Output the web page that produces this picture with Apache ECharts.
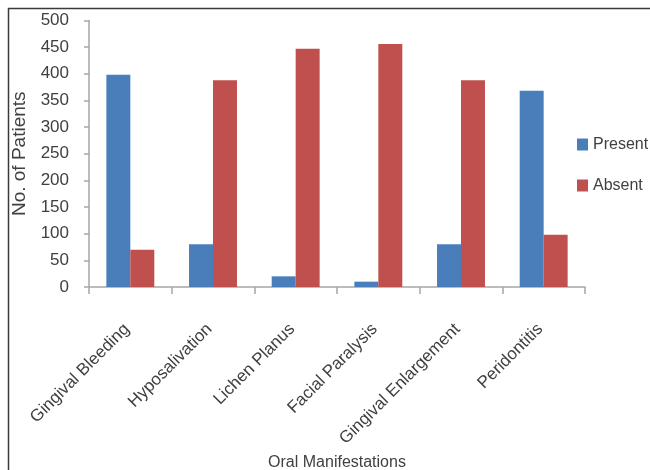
<!DOCTYPE html>
<html>
<head>
<meta charset="utf-8">
<script src="https://cdn.jsdelivr.net/npm/echarts@6/dist/echarts.min.js"></script>
<style>
html,body{margin:0;padding:0;background:#fff;overflow:hidden;}
#c{width:650px;height:470px;}
</style>
</head>
<body>
<div id="c"></div>
<script>
const categories = ["Gingival Bleeding", "Hyposalivation", "Lichen Planus", "Facial Paralysis", "Gingival Enlargement", "Peridontitis"];
const presentValues = [398, 80, 20, 10, 80, 368];
const absentValues = [70, 388, 447, 456, 388, 98];
const yTicks = { min: 0, max: 500, interval: 50 };

const FONT = "'Liberation Sans Narrow', 'Arial Narrow', 'Liberation Sans', Arial, sans-serif";
const TXT = '#404040';

const chart = echarts.init(document.getElementById('c'), null, { renderer: 'canvas' });
chart.setOption({
  animation: false,
  backgroundColor: '#fff',
  textStyle: { fontFamily: FONT },
  graphic: [
    { type: 'polyline', shape: { points: [[8.5, 480], [8.5, 8.5], [660, 8.5]] },
      style: { stroke: '#3a3a3a', lineWidth: 1.5, fill: null } }
  ],
  grid: { left: 89, right: 65, top: 20.5, bottom: 183, containLabel: false, outerBoundsMode: 'none' },
  legend: {
    orient: 'vertical', left: 577, top: 136.5, padding: 0,
    itemWidth: 11, itemHeight: 12, itemGap: 25,
    icon: 'rect',
    textStyle: { fontFamily: FONT, fontSize: 16, lineHeight: 16, color: TXT },
    data: ['Present', 'Absent']
  },
  xAxis: {
    type: 'category', data: categories,
    name: 'Oral Manifestations', nameLocation: 'middle', nameGap: 165,
    nameTextStyle: { fontFamily: FONT, fontSize: 16, color: TXT },
    axisLine: { lineStyle: { color: '#A6A6A6', width: 1.5 } },
    axisTick: { show: true, length: 7, alignWithLabel: false, lineStyle: { color: '#A6A6A6', width: 1.5 } },
    axisLabel: { rotate: 45, interval: 0, fontFamily: FONT, fontSize: 17, color: TXT, margin: 36, padding: [0, 5, 0, 0] }
  },
  yAxis: {
    type: 'value', min: yTicks.min, max: yTicks.max, interval: yTicks.interval,
    name: 'No. of Patients', nameLocation: 'middle', nameGap: 55, nameRotate: 90,
    nameTextStyle: { fontFamily: FONT, fontSize: 19, color: TXT },
    axisLine: { show: true, lineStyle: { color: '#A6A6A6', width: 1.5 } },
    axisTick: { show: true, length: 5, lineStyle: { color: '#A6A6A6', width: 1.5 } },
    splitLine: { show: false },
    axisLabel: { fontFamily: FONT, fontSize: 17, color: TXT, margin: 20 }
  },
  series: [
    { name: 'Present', type: 'bar', data: presentValues, barGap: '0%', barCategoryGap: '42%',
      itemStyle: { color: '#4A7EBB' } },
    { name: 'Absent', type: 'bar', data: absentValues, barGap: '0%', barCategoryGap: '42%',
      itemStyle: { color: '#C0504D' } }
  ]
});
</script>
</body>
</html>
